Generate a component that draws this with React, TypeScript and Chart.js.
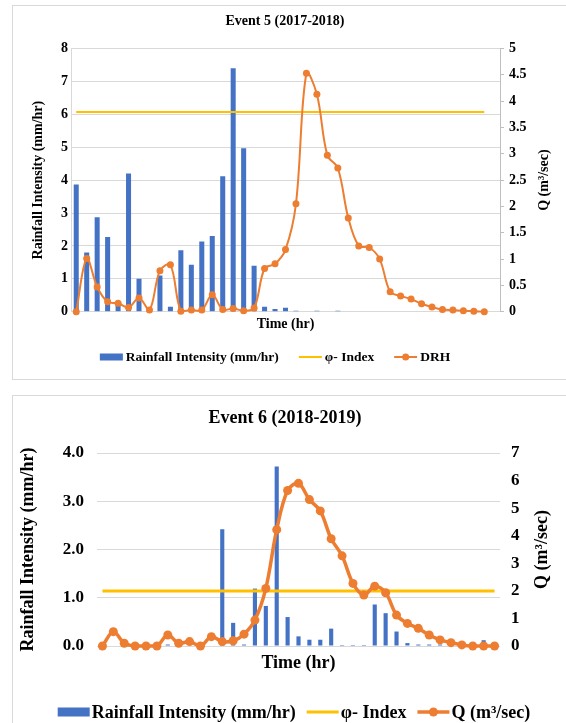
import React, { useEffect, useRef } from "react";
import { Chart, registerables } from "chart.js";

Chart.register(...registerables);

const SERIF = '"Liberation Serif", "Times New Roman", Times, serif';
const BLUE = "#4472C4";
const ORANGE = "#ED7D31";
const GOLD = "#FFC000";
const GRID = "#D9D9D9";
const INK = "#000000";

// ---------- Event 5 (2017-2018) ----------
const event5Hours = [
  "1", "2", "3", "4", "5", "6", "7", "8", "9", "10",
  "11", "12", "13", "14", "15", "16", "17", "18", "19", "20",
  "21", "22", "23", "24", "25", "26", "27", "28", "29", "30",
  "31", "32", "33", "34", "35", "36", "37", "38", "39", "40", "41",
];
// rainfall intensity, mm/hr
const event5Rainfall = [
  3.87, 1.8, 2.87, 2.27, 0.2, 4.2, 1.0, 0, 1.1, 0.15,
  1.87, 1.43, 2.13, 2.3, 4.12, 7.4, 4.97, 1.4, 0.15, 0.08,
  0.12, 0.03, 0, 0.03, 0, 0.03, 0, 0, 0, 0,
  0, 0, 0, 0, 0, 0, 0, 0, 0, 0,
];
// direct runoff hydrograph, m³/sec
const event5Drh = [
  0, 1.01, 0.47, 0.19, 0.16, 0.08, 0.26, 0.03, 0.78, 0.89,
  0.01, 0.03, 0.03, 0.32, 0.04, 0.06, 0.02, 0.07, 0.82, 0.91,
  1.18, 2.05, 4.53, 4.13, 2.97, 2.73, 1.78, 1.25, 1.22, 1.0,
  0.38, 0.3, 0.24, 0.15, 0.09, 0.04, 0.03, 0.02, 0.01, 0,
];
const event5PhiIndex = 6.07;

// ---------- Event 6 (2018-2019) ----------
const event6Hours = [
  "1", "2", "3", "4", "5", "6", "7", "8", "9", "10",
  "11", "12", "13", "14", "15", "16", "17", "18", "19", "20",
  "21", "22", "23", "24", "25", "26", "27", "28", "29", "30",
  "31", "32", "33", "34", "35", "36", "37",
];
const event6Rainfall = [
  0, 0, 0, 0, 0, 0, 0.03, 0, 0, 0,
  0, 2.42, 0.48, 0.03, 1.19, 0.83, 3.72, 0.6, 0.2, 0.13,
  0.13, 0.36, 0.02, 0.02, 0.02, 0.86, 0.68, 0.3, 0.06, 0.03,
  0.03, 0.03, 0, 0, 0, 0.12, 0,
];
const event6Flow = [
  0, 0.52, 0.1, 0, 0, 0, 0.4, 0.1, 0.16, 0,
  0.34, 0.16, 0.19, 0.43, 0.94, 2.09, 4.22, 5.64, 5.9, 5.31,
  4.9, 3.89, 3.27, 2.27, 1.85, 2.17, 1.93, 1.12, 0.82, 0.64,
  0.4, 0.22, 0.12, 0.04, 0, 0, 0,
];
const event6PhiIndex = 1.14;

type Area = { left: number; right: number; top: number; bottom: number };

type PanelSpec = {
  frameLeft: number;
  frameTop: number;
  frameHeight: number;
  width: number;
  height: number;
  area: Area;
  hours: string[];
  rain: number[];
  flow: number[];
  phi: number;
  flowLabel: string;
  leftMax: number;
  leftStep: number;
  leftDecimals: number;
  rightMax: number;
  rightStep: number;
  axisLines: boolean;
  barPct: number;
  lineWidth: number;
  pointRadius: number;
  phiWidth: number;
  tickFont: number;
  leftTickPad: number;
  rightTickPad: number;
  rightTickLen: number;
  title: string;
  titleFont: number;
  titleX: number;
  titleY: number;
  axisTitleFont: number;
  leftTitleX: number;
  rightTitleX: number;
  xTitleY: number;
  legendY: number;
  legendX: number;
  legendFont: number;
  legendSymbol: number;
  legendBoxH: number;
  legendGap: number;
  legendSpacing: number;
};

const bold = (size: number) => `bold ${size}px ${SERIF}`;

function overlayPlugin(s: PanelSpec) {
  return {
    id: "panelText",
    afterDraw(chart: Chart) {
      const ctx = chart.ctx;
      const a = chart.chartArea;
      const midY = (a.top + a.bottom) / 2;
      ctx.save();
      ctx.fillStyle = INK;
      ctx.textBaseline = "middle";
      ctx.textAlign = "center";

      // chart title
      ctx.font = bold(s.titleFont);
      ctx.fillText(s.title, s.titleX, s.titleY);

      // axis titles
      ctx.font = bold(s.axisTitleFont);
      ctx.fillText("Time (hr)", (a.left + a.right) / 2, s.xTitleY);

      ctx.save();
      ctx.translate(s.leftTitleX, midY);
      ctx.rotate(-Math.PI / 2);
      ctx.fillText("Rainfall Intensity (mm/hr)", 0, 0);
      ctx.restore();

      ctx.save();
      ctx.translate(s.rightTitleX, midY);
      ctx.rotate(-Math.PI / 2);
      ctx.fillText("Q (m³/sec)", 0, 0);
      ctx.restore();

      // legend
      const items = [
        { kind: "box", color: BLUE, text: "Rainfall Intensity (mm/hr)" },
        { kind: "line", color: GOLD, text: "φ- Index" },
        { kind: "marker", color: ORANGE, text: s.flowLabel },
      ];
      ctx.font = bold(s.legendFont);
      const widths = items.map((it) => ctx.measureText(it.text).width);
      const total =
        widths.reduce((sum, w) => sum + w + s.legendSymbol + s.legendGap, 0) +
        s.legendSpacing * (items.length - 1);
      let x = s.legendX - total / 2;
      const y = s.legendY;
      ctx.textAlign = "left";
      items.forEach((it, i) => {
        if (it.kind === "box") {
          ctx.fillStyle = it.color;
          ctx.fillRect(x, y - s.legendBoxH / 2, s.legendSymbol, s.legendBoxH);
        } else {
          ctx.strokeStyle = it.color;
          ctx.lineWidth = it.kind === "line" ? s.phiWidth : s.lineWidth;
          ctx.beginPath();
          ctx.moveTo(x, y);
          ctx.lineTo(x + s.legendSymbol, y);
          ctx.stroke();
          if (it.kind === "marker") {
            ctx.fillStyle = it.color;
            ctx.beginPath();
            ctx.arc(x + s.legendSymbol / 2, y, s.pointRadius, 0, Math.PI * 2);
            ctx.fill();
          }
        }
        x += s.legendSymbol + s.legendGap;
        ctx.fillStyle = INK;
        ctx.fillText(it.text, x, y + 1);
        x += widths[i] + s.legendSpacing;
      });
      ctx.restore();
    },
  };
}

function buildChart(canvas: HTMLCanvasElement, s: PanelSpec) {
  const tickFont = { family: SERIF, size: s.tickFont, weight: "bold" as const };
  return new Chart(canvas, {
    type: "bar",
    data: {
      labels: s.hours,
      datasets: [
        {
          type: "bar",
          label: "Rainfall Intensity (mm/hr)",
          data: s.rain,
          backgroundColor: BLUE,
          yAxisID: "y",
          order: 3,
          barPercentage: s.barPct,
          categoryPercentage: 1,
        },
        {
          type: "line",
          label: "φ- Index",
          data: s.flow.map(() => s.phi),
          borderColor: GOLD,
          borderWidth: s.phiWidth,
          pointRadius: 0,
          yAxisID: "y",
          order: 2,
          clip: false,
        },
        {
          type: "line",
          label: s.flowLabel,
          data: s.flow,
          borderColor: ORANGE,
          backgroundColor: ORANGE,
          borderWidth: s.lineWidth,
          pointRadius: s.pointRadius,
          pointBorderWidth: 0,
          pointBackgroundColor: ORANGE,
          tension: 0.35,
          yAxisID: "y1",
          order: 1,
          clip: false,
        },
      ] as any,
    },
    options: {
      responsive: false,
      animation: false,
      devicePixelRatio: 1,
      events: [],
      layout: { padding: { top: s.area.top, left: 0, right: 0, bottom: 0 } },
      plugins: {
        legend: { display: false },
        title: { display: false },
        tooltip: { enabled: false },
      },
      scales: {
        x: {
          type: "category",
          offset: true,
          grid: { display: false },
          border: { display: false },
          ticks: { display: false },
          afterFit: (sc: any) => {
            sc.height = s.height - s.area.bottom;
          },
        },
        y: {
          position: "left",
          min: 0,
          max: s.leftMax,
          ticks: {
            stepSize: s.leftStep,
            font: tickFont,
            color: INK,
            padding: s.leftTickPad,
            callback: (v: any) => Number(v).toFixed(s.leftDecimals),
          },
          grid: { color: GRID, lineWidth: 1, drawTicks: false },
          border: { display: s.axisLines, color: GRID },
          afterFit: (sc: any) => {
            sc.width = s.area.left;
          },
        },
        y1: {
          position: "right",
          min: 0,
          max: s.rightMax,
          ticks: {
            stepSize: s.rightStep,
            font: tickFont,
            color: INK,
            padding: s.rightTickPad,
            callback: (v: any) => String(Number(v)),
          },
          grid: {
            drawOnChartArea: false,
            drawTicks: s.rightTickLen > 0,
            tickLength: s.rightTickLen,
            color: "#BFBFBF",
          },
          border: { display: s.axisLines, color: "#BFBFBF" },
          afterFit: (sc: any) => {
            sc.width = s.width - s.area.right;
          },
        },
      },
    } as any,
    plugins: [overlayPlugin(s)],
  });
}

const event5Spec: PanelSpec = {
  frameLeft: 12,
  frameTop: 5,
  frameHeight: 375,
  width: 560,
  height: 373,
  area: { left: 58, right: 487, top: 42.5, bottom: 305.7 },
  hours: event5Hours,
  rain: event5Rainfall,
  flow: event5Drh,
  phi: event5PhiIndex,
  flowLabel: "DRH",
  leftMax: 8,
  leftStep: 1,
  leftDecimals: 0,
  rightMax: 5,
  rightStep: 0.5,
  axisLines: true,
  barPct: 0.48,
  lineWidth: 2,
  pointRadius: 3.5,
  phiWidth: 2,
  tickFont: 14,
  leftTickPad: 3,
  rightTickPad: 5,
  rightTickLen: 4,
  title: "Event 5 (2017-2018)",
  titleFont: 14,
  titleX: 272,
  titleY: 15,
  axisTitleFont: 14,
  leftTitleX: 25,
  rightTitleX: 531,
  xTitleY: 318,
  legendY: 351,
  legendX: 262,
  legendFont: 13.5,
  legendSymbol: 23,
  legendBoxH: 7,
  legendGap: 3,
  legendSpacing: 20,
};

const event6Spec: PanelSpec = {
  frameLeft: 12,
  frameTop: 395,
  frameHeight: 340,
  width: 560,
  height: 327,
  area: { left: 84, right: 487, top: 57, bottom: 250 },
  hours: event6Hours,
  rain: event6Rainfall,
  flow: event6Flow,
  phi: event6PhiIndex,
  flowLabel: "Q (m³/sec)",
  leftMax: 4,
  leftStep: 1,
  leftDecimals: 1,
  rightMax: 7,
  rightStep: 1,
  axisLines: false,
  barPct: 0.38,
  lineWidth: 3.5,
  pointRadius: 4.5,
  phiWidth: 3,
  tickFont: 17,
  leftTickPad: 13,
  rightTickPad: 11,
  rightTickLen: 0,
  title: "Event 6 (2018-2019)",
  titleFont: 18,
  titleX: 272,
  titleY: 22,
  axisTitleFont: 18,
  leftTitleX: 15,
  rightTitleX: 529,
  xTitleY: 267,
  legendY: 316,
  legendX: 281,
  legendFont: 18,
  legendSymbol: 32,
  legendBoxH: 9,
  legendGap: 2,
  legendSpacing: 11,
};

function Panel({ spec }: { spec: PanelSpec }) {
  const ref = useRef<HTMLCanvasElement | null>(null);
  useEffect(() => {
    if (!ref.current) return;
    const chart = buildChart(ref.current, spec);
    return () => chart.destroy();
  }, [spec]);
  return (
    <div
      style={{
        position: "absolute",
        left: spec.frameLeft,
        top: spec.frameTop,
        width: spec.width + 10,
        height: spec.frameHeight,
        boxSizing: "border-box",
        border: `1px solid ${GRID}`,
        background: "#ffffff",
      }}
    >
      <canvas
        ref={ref}
        width={spec.width}
        height={spec.height}
        style={{ display: "block", width: spec.width, height: spec.height }}
      />
    </div>
  );
}

export default function App() {
  return (
    <div
      style={{
        position: "absolute",
        left: 0,
        top: 0,
        width: 566,
        height: 723,
        overflow: "hidden",
        background: "#ffffff",
      }}
    >
      <Panel spec={event5Spec} />
      <Panel spec={event6Spec} />
    </div>
  );
}
